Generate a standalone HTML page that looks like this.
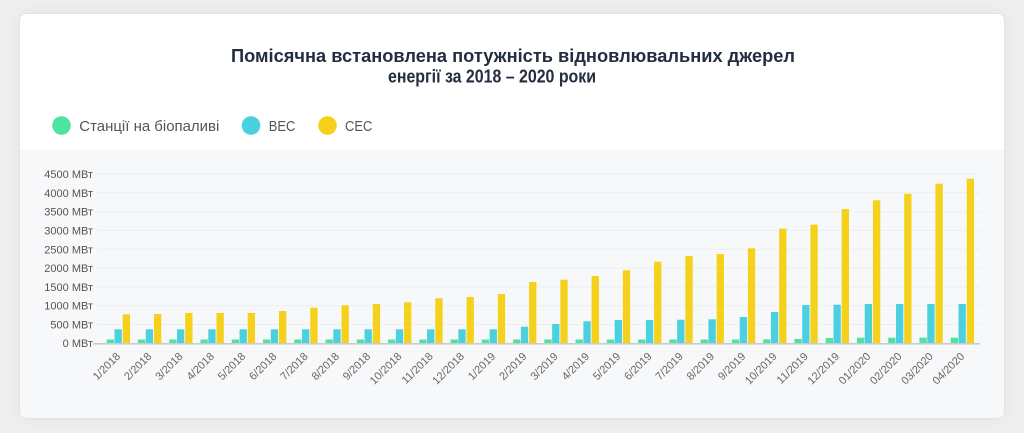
<!DOCTYPE html>
<html><head><meta charset="utf-8">
<style>
html,body{margin:0;padding:0;}
body{width:1024px;height:433px;background:#efefef;overflow:hidden;position:relative;font-family:"Liberation Sans",sans-serif;}
.card{position:absolute;left:19px;top:13px;width:984px;height:404px;background:#fff;border:1px solid #e2e2e2;border-radius:7px;box-shadow:0 0 18px rgba(0,0,0,0.05);overflow:hidden;}
.plotbg{position:absolute;left:0;top:136px;width:984px;height:268px;background:#f7f8fa;}
svg{position:absolute;left:0;top:0;}
</style></head>
<body>
<div class="card"><div class="plotbg"></div></div>
<svg width="1024" height="433" viewBox="0 0 1024 433" font-family="'Liberation Sans', sans-serif">
  <!-- title -->
  <text x="231" y="62" font-size="18" font-weight="bold" fill="#232d3f" textLength="564" lengthAdjust="spacingAndGlyphs">Помісячна встановлена потужність відновлювальних джерел</text>
  <text x="388" y="82.5" font-size="18" font-weight="bold" fill="#232d3f" textLength="208" lengthAdjust="spacingAndGlyphs">енергії за 2018 – 2020 роки</text>
  <!-- legend -->
  <circle cx="61.5" cy="125.5" r="9.3" fill="#4de3a0"/>
  <text x="79.3" y="131" font-size="15" fill="#555" textLength="140" lengthAdjust="spacingAndGlyphs">Станції на біопаливі</text>
  <circle cx="251" cy="125.5" r="9.3" fill="#4bd0e0"/>
  <text x="268.7" y="131" font-size="15" fill="#555" textLength="26.6" lengthAdjust="spacingAndGlyphs">ВЕС</text>
  <circle cx="327.5" cy="125.5" r="9.3" fill="#f6d11c"/>
  <text x="345" y="131" font-size="15" fill="#555" textLength="27.3" lengthAdjust="spacingAndGlyphs">СЕС</text>
  <!-- gridlines -->
  <g stroke="#eceef1" stroke-width="1">
    <line x1="97" x2="980" y1="324.5" y2="324.5"/>
    <line x1="97" x2="980" y1="305.7" y2="305.7"/>
    <line x1="97" x2="980" y1="286.9" y2="286.9"/>
    <line x1="97" x2="980" y1="268.1" y2="268.1"/>
    <line x1="97" x2="980" y1="249.3" y2="249.3"/>
    <line x1="97" x2="980" y1="230.4" y2="230.4"/>
    <line x1="97" x2="980" y1="211.6" y2="211.6"/>
    <line x1="97" x2="980" y1="192.8" y2="192.8"/>
    <line x1="97" x2="980" y1="174.0" y2="174.0"/>
  </g>
  <!-- y labels -->
  <g font-size="11" fill="#555" text-anchor="end">
    <text x="93" y="347">0 МВт</text>
    <text x="93" y="328.5">500 МВт</text>
    <text x="93" y="309.7">1000 МВт</text>
    <text x="93" y="290.9">1500 МВт</text>
    <text x="93" y="272.1">2000 МВт</text>
    <text x="93" y="253.3">2500 МВт</text>
    <text x="93" y="234.4">3000 МВт</text>
    <text x="93" y="215.6">3500 МВт</text>
    <text x="93" y="196.8">4000 МВт</text>
    <text x="93" y="178">4500 МВт</text>
  </g>
  <!-- bars -->
  <g>
    <g transform="translate(106.7,0)"><rect x="0" y="339.5" width="7.3" height="3.8" fill="#4de3a0"/><rect x="7.8" y="329.3" width="7.3" height="14" fill="#4bd0e0"/><rect x="16" y="314.3" width="7.3" height="29" fill="#f6d11c"/></g>
    <g transform="translate(137.96,0)"><rect x="0" y="339.5" width="7.3" height="3.8" fill="#4de3a0"/><rect x="7.8" y="329.3" width="7.3" height="14" fill="#4bd0e0"/><rect x="16" y="314" width="7.3" height="29.3" fill="#f6d11c"/></g>
    <g transform="translate(169.22,0)"><rect x="0" y="339.5" width="7.3" height="3.8" fill="#4de3a0"/><rect x="7.8" y="329.3" width="7.3" height="14" fill="#4bd0e0"/><rect x="16" y="313" width="7.3" height="30.3" fill="#f6d11c"/></g>
    <g transform="translate(200.48,0)"><rect x="0" y="339.5" width="7.3" height="3.8" fill="#4de3a0"/><rect x="7.8" y="329.3" width="7.3" height="14" fill="#4bd0e0"/><rect x="16" y="313" width="7.3" height="30.3" fill="#f6d11c"/></g>
    <g transform="translate(231.74,0)"><rect x="0" y="339.5" width="7.3" height="3.8" fill="#4de3a0"/><rect x="7.8" y="329.3" width="7.3" height="14" fill="#4bd0e0"/><rect x="16" y="313" width="7.3" height="30.3" fill="#f6d11c"/></g>
    <g transform="translate(263.0,0)"><rect x="0" y="339.5" width="7.3" height="3.8" fill="#4de3a0"/><rect x="7.8" y="329.3" width="7.3" height="14" fill="#4bd0e0"/><rect x="16" y="311" width="7.3" height="32.3" fill="#f6d11c"/></g>
    <g transform="translate(294.26,0)"><rect x="0" y="339.5" width="7.3" height="3.8" fill="#4de3a0"/><rect x="7.8" y="329.3" width="7.3" height="14" fill="#4bd0e0"/><rect x="16" y="307.7" width="7.3" height="35.6" fill="#f6d11c"/></g>
    <g transform="translate(325.52,0)"><rect x="0" y="339.5" width="7.3" height="3.8" fill="#4de3a0"/><rect x="7.8" y="329.3" width="7.3" height="14" fill="#4bd0e0"/><rect x="16" y="305.3" width="7.3" height="38" fill="#f6d11c"/></g>
    <g transform="translate(356.78,0)"><rect x="0" y="339.5" width="7.3" height="3.8" fill="#4de3a0"/><rect x="7.8" y="329.3" width="7.3" height="14" fill="#4bd0e0"/><rect x="16" y="304" width="7.3" height="39.3" fill="#f6d11c"/></g>
    <g transform="translate(388.04,0)"><rect x="0" y="339.5" width="7.3" height="3.8" fill="#4de3a0"/><rect x="7.8" y="329.3" width="7.3" height="14" fill="#4bd0e0"/><rect x="16" y="302.3" width="7.3" height="41" fill="#f6d11c"/></g>
    <g transform="translate(419.3,0)"><rect x="0" y="339.5" width="7.3" height="3.8" fill="#4de3a0"/><rect x="7.8" y="329.3" width="7.3" height="14" fill="#4bd0e0"/><rect x="16" y="298.3" width="7.3" height="45" fill="#f6d11c"/></g>
    <g transform="translate(450.56,0)"><rect x="0" y="339.5" width="7.3" height="3.8" fill="#4de3a0"/><rect x="7.8" y="329.3" width="7.3" height="14" fill="#4bd0e0"/><rect x="16" y="297" width="7.3" height="46.3" fill="#f6d11c"/></g>
    <g transform="translate(481.82,0)"><rect x="0" y="339.5" width="7.3" height="3.8" fill="#4de3a0"/><rect x="7.8" y="329.3" width="7.3" height="14" fill="#4bd0e0"/><rect x="16" y="294" width="7.3" height="49.3" fill="#f6d11c"/></g>
    <g transform="translate(513.08,0)"><rect x="0" y="339.5" width="7.3" height="3.8" fill="#4de3a0"/><rect x="7.8" y="326.7" width="7.3" height="16.6" fill="#4bd0e0"/><rect x="16" y="282" width="7.3" height="61.3" fill="#f6d11c"/></g>
    <g transform="translate(544.34,0)"><rect x="0" y="339.5" width="7.3" height="3.8" fill="#4de3a0"/><rect x="7.8" y="324" width="7.3" height="19.3" fill="#4bd0e0"/><rect x="16" y="279.7" width="7.3" height="63.6" fill="#f6d11c"/></g>
    <g transform="translate(575.6,0)"><rect x="0" y="339.5" width="7.3" height="3.8" fill="#4de3a0"/><rect x="7.8" y="321.3" width="7.3" height="22" fill="#4bd0e0"/><rect x="16" y="276" width="7.3" height="67.3" fill="#f6d11c"/></g>
    <g transform="translate(606.86,0)"><rect x="0" y="339.5" width="7.3" height="3.8" fill="#4de3a0"/><rect x="7.8" y="320" width="7.3" height="23.3" fill="#4bd0e0"/><rect x="16" y="270.3" width="7.3" height="73" fill="#f6d11c"/></g>
    <g transform="translate(638.12,0)"><rect x="0" y="339.5" width="7.3" height="3.8" fill="#4de3a0"/><rect x="7.8" y="320" width="7.3" height="23.3" fill="#4bd0e0"/><rect x="16" y="261.7" width="7.3" height="81.6" fill="#f6d11c"/></g>
    <g transform="translate(669.38,0)"><rect x="0" y="339.5" width="7.3" height="3.8" fill="#4de3a0"/><rect x="7.8" y="319.7" width="7.3" height="23.6" fill="#4bd0e0"/><rect x="16" y="256" width="7.3" height="87.3" fill="#f6d11c"/></g>
    <g transform="translate(700.64,0)"><rect x="0" y="339.5" width="7.3" height="3.8" fill="#4de3a0"/><rect x="7.8" y="319.3" width="7.3" height="24" fill="#4bd0e0"/><rect x="16" y="254" width="7.3" height="89.3" fill="#f6d11c"/></g>
    <g transform="translate(731.9,0)"><rect x="0" y="339.5" width="7.3" height="3.8" fill="#4de3a0"/><rect x="7.8" y="317" width="7.3" height="26.3" fill="#4bd0e0"/><rect x="16" y="248.3" width="7.3" height="95" fill="#f6d11c"/></g>
    <g transform="translate(763.16,0)"><rect x="0" y="339.3" width="7.3" height="4" fill="#4de3a0"/><rect x="7.8" y="312" width="7.3" height="31.3" fill="#4bd0e0"/><rect x="16" y="228.7" width="7.3" height="114.6" fill="#f6d11c"/></g>
    <g transform="translate(794.42,0)"><rect x="0" y="339" width="7.3" height="4.3" fill="#4de3a0"/><rect x="7.8" y="305" width="7.3" height="38.3" fill="#4bd0e0"/><rect x="16" y="224.7" width="7.3" height="118.6" fill="#f6d11c"/></g>
    <g transform="translate(825.68,0)"><rect x="0" y="338" width="7.3" height="5.3" fill="#4de3a0"/><rect x="7.8" y="304.7" width="7.3" height="38.6" fill="#4bd0e0"/><rect x="16" y="209" width="7.3" height="134.3" fill="#f6d11c"/></g>
    <g transform="translate(856.94,0)"><rect x="0" y="337.7" width="7.3" height="5.6" fill="#4de3a0"/><rect x="7.8" y="304" width="7.3" height="39.3" fill="#4bd0e0"/><rect x="16" y="200.3" width="7.3" height="143" fill="#f6d11c"/></g>
    <g transform="translate(888.2,0)"><rect x="0" y="337.7" width="7.3" height="5.6" fill="#4de3a0"/><rect x="7.8" y="304" width="7.3" height="39.3" fill="#4bd0e0"/><rect x="16" y="193.7" width="7.3" height="149.6" fill="#f6d11c"/></g>
    <g transform="translate(919.46,0)"><rect x="0" y="337.7" width="7.3" height="5.6" fill="#4de3a0"/><rect x="7.8" y="304" width="7.3" height="39.3" fill="#4bd0e0"/><rect x="16" y="183.7" width="7.3" height="159.6" fill="#f6d11c"/></g>
    <g transform="translate(950.72,0)"><rect x="0" y="337.7" width="7.3" height="5.6" fill="#4de3a0"/><rect x="7.8" y="304" width="7.3" height="39.3" fill="#4bd0e0"/><rect x="16" y="178.7" width="7.3" height="164.6" fill="#f6d11c"/></g>
  </g>
  <!-- axis line -->
  <rect x="93" y="343" width="887" height="1.6" fill="#c9cbcf"/>
  <!-- x labels -->
  <g font-size="11" fill="#666" text-anchor="end">
    <text transform="translate(121,357) rotate(-45)">1/2018</text>
    <text transform="translate(152.26,357) rotate(-45)">2/2018</text>
    <text transform="translate(183.52,357) rotate(-45)">3/2018</text>
    <text transform="translate(214.78,357) rotate(-45)">4/2018</text>
    <text transform="translate(246.04,357) rotate(-45)">5/2018</text>
    <text transform="translate(277.3,357) rotate(-45)">6/2018</text>
    <text transform="translate(308.56,357) rotate(-45)">7/2018</text>
    <text transform="translate(339.82,357) rotate(-45)">8/2018</text>
    <text transform="translate(371.08,357) rotate(-45)">9/2018</text>
    <text transform="translate(402.34,357) rotate(-45)">10/2018</text>
    <text transform="translate(433.6,357) rotate(-45)">11/2018</text>
    <text transform="translate(464.86,357) rotate(-45)">12/2018</text>
    <text transform="translate(496.12,357) rotate(-45)">1/2019</text>
    <text transform="translate(527.38,357) rotate(-45)">2/2019</text>
    <text transform="translate(558.64,357) rotate(-45)">3/2019</text>
    <text transform="translate(589.9,357) rotate(-45)">4/2019</text>
    <text transform="translate(621.16,357) rotate(-45)">5/2019</text>
    <text transform="translate(652.42,357) rotate(-45)">6/2019</text>
    <text transform="translate(683.68,357) rotate(-45)">7/2019</text>
    <text transform="translate(714.94,357) rotate(-45)">8/2019</text>
    <text transform="translate(746.2,357) rotate(-45)">9/2019</text>
    <text transform="translate(777.46,357) rotate(-45)">10/2019</text>
    <text transform="translate(808.72,357) rotate(-45)">11/2019</text>
    <text transform="translate(839.98,357) rotate(-45)">12/2019</text>
    <text transform="translate(871.24,357) rotate(-45)">01/2020</text>
    <text transform="translate(902.5,357) rotate(-45)">02/2020</text>
    <text transform="translate(933.76,357) rotate(-45)">03/2020</text>
    <text transform="translate(965.02,357) rotate(-45)">04/2020</text>
  </g>
</svg>
</body></html>
